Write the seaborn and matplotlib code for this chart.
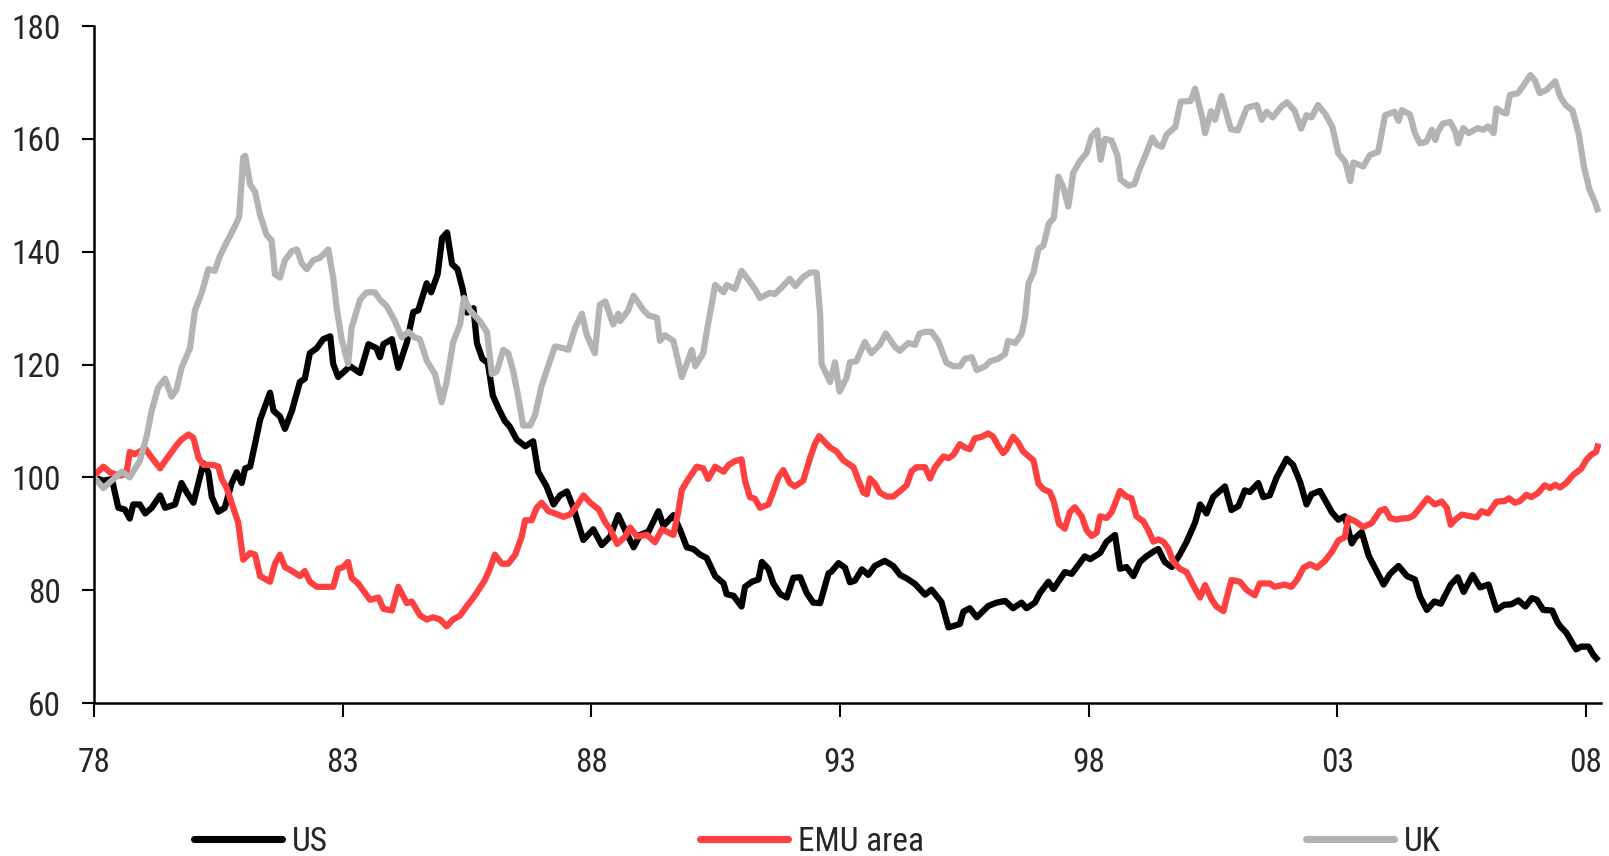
import matplotlib
matplotlib.use("Agg")
import matplotlib.pyplot as plt
from matplotlib import font_manager
from matplotlib.lines import Line2D
import seaborn as sns
import pandas as pd

# ---------------- data (decimal years, index 1978 = 100) ----------------
us_years = [1978.00, 1978.19, 1978.36, 1978.49, 1978.62, 1978.72, 1978.79, 1978.92, 1979.03, 1979.16,
            1979.33, 1979.43, 1979.63, 1979.76, 1979.86, 1980.00, 1980.10, 1980.20, 1980.30, 1980.37,
            1980.50, 1980.63, 1980.77, 1980.87, 1980.97, 1981.04, 1981.14, 1981.24, 1981.34, 1981.54,
            1981.61, 1981.74, 1981.84, 1981.98, 1982.14, 1982.24, 1982.34, 1982.48, 1982.61, 1982.75,
            1982.81, 1982.91, 1983.15, 1983.35, 1983.52, 1983.68, 1983.75, 1983.82, 1983.99, 1984.12,
            1984.29, 1984.42, 1984.52, 1984.69, 1984.78, 1984.91, 1985.00, 1985.10, 1985.20, 1985.31,
            1985.41, 1985.50, 1985.63, 1985.70, 1985.81, 1985.92, 1986.02, 1986.13, 1986.26, 1986.36,
            1986.50, 1986.67, 1986.83, 1986.93, 1987.10, 1987.24, 1987.37, 1987.51, 1987.64, 1987.84,
            1988.04, 1988.21, 1988.38, 1988.54, 1988.71, 1988.85, 1988.98, 1989.15, 1989.35, 1989.45,
            1989.65, 1989.78, 1989.92, 1990.05, 1990.19, 1990.32, 1990.49, 1990.66, 1990.72, 1990.86,
            1991.02, 1991.09, 1991.23, 1991.36, 1991.43, 1991.56, 1991.66, 1991.80, 1991.93, 1992.06,
            1992.20, 1992.33, 1992.46, 1992.60, 1992.77, 1992.83, 1992.97, 1993.10, 1993.20, 1993.30,
            1993.44, 1993.57, 1993.70, 1993.90, 1994.07, 1994.21, 1994.34, 1994.51, 1994.71, 1994.84,
            1995.04, 1995.18, 1995.41, 1995.48, 1995.61, 1995.75, 1995.98, 1996.15, 1996.32, 1996.48,
            1996.65, 1996.75, 1996.92, 1997.02, 1997.19, 1997.29, 1997.52, 1997.66, 1997.92, 1998.03,
            1998.23, 1998.36, 1998.53, 1998.63, 1998.76, 1998.90, 1999.03, 1999.16, 1999.33, 1999.40,
            1999.53, 1999.67, 1999.83, 1999.97, 2000.14, 2000.24, 2000.37, 2000.50, 2000.74, 2000.87,
            2001.01, 2001.14, 2001.24, 2001.41, 2001.51, 2001.64, 2001.78, 2001.98, 2002.11, 2002.25,
            2002.38, 2002.48, 2002.65, 2002.75, 2002.89, 2003.02, 2003.15, 2003.29, 2003.36, 2003.49,
            2003.63, 2003.76, 2003.93, 2004.06, 2004.23, 2004.40, 2004.56, 2004.66, 2004.80, 2004.95,
            2005.08, 2005.28, 2005.42, 2005.54, 2005.72, 2005.87, 2006.04, 2006.20, 2006.35, 2006.50,
            2006.64, 2006.78, 2006.91, 2007.01, 2007.14, 2007.32, 2007.42, 2007.48, 2007.60, 2007.70,
            2007.80, 2007.90, 2008.05, 2008.15, 2008.25]
us_values = [100.0, 99.4, 99.7, 94.6, 94.3, 92.7, 95.2, 95.2, 93.6, 94.6,
             96.8, 94.6, 95.2, 99.0, 97.4, 95.5, 99.0, 102.5, 100.9, 96.5,
             93.9, 94.6, 99.0, 100.9, 99.0, 101.6, 101.9, 106.0, 110.2, 115.0,
             111.8, 110.8, 108.6, 111.8, 116.9, 117.5, 122.0, 122.9, 124.5, 125.0,
             120.1, 117.8, 119.7, 118.5, 123.6, 122.9, 121.3, 123.6, 124.5, 119.4,
             123.9, 129.3, 129.6, 134.4, 132.8, 136.0, 142.4, 143.4, 137.8, 136.9,
             133.5, 129.2, 130.0, 123.8, 121.0, 120.3, 114.5, 112.3, 110.0, 109.0,
             106.7, 105.5, 106.4, 101.0, 98.4, 95.2, 96.8, 97.5, 94.6, 88.9,
             90.8, 88.0, 89.5, 93.3, 90.1, 87.6, 89.8, 90.4, 94.0, 91.4,
             93.3, 90.8, 87.6, 87.3, 86.3, 85.7, 82.5, 81.2, 79.3, 79.0,
             77.1, 80.6, 81.5, 81.9, 85.0, 83.8, 81.2, 79.3, 78.7, 82.2,
             82.3, 79.5, 77.8, 77.7, 83.0, 83.3, 84.8, 84.0, 81.4, 81.7,
             83.7, 82.7, 84.3, 85.2, 84.3, 82.7, 82.1, 81.1, 79.2, 80.1,
             77.9, 73.4, 74.0, 76.2, 76.8, 75.2, 77.2, 77.8, 78.1, 76.8,
             77.8, 76.8, 77.8, 79.5, 81.5, 80.2, 83.2, 82.9, 86.0, 85.5,
             86.6, 88.6, 89.8, 83.8, 84.1, 82.5, 85.0, 86.0, 87.0, 87.3,
             85.0, 84.1, 86.3, 88.6, 92.0, 95.2, 93.6, 96.5, 98.4, 94.2,
             94.9, 97.7, 97.4, 99.0, 96.5, 96.8, 100.0, 103.3, 102.2, 99.2,
             95.2, 97.0, 97.6, 96.0, 93.8, 92.5, 93.1, 88.3, 89.3, 90.3,
             86.1, 83.9, 81.0, 82.9, 84.3, 82.5, 81.9, 78.9, 76.5, 78.0,
             77.6, 81.0, 82.3, 79.7, 82.7, 80.5, 81.0, 76.5, 77.4, 77.5,
             78.2, 77.1, 78.6, 78.3, 76.5, 76.4, 74.4, 73.6, 72.5, 71.0,
             69.5, 70.0, 70.0, 68.5, 67.5]

emu_years = [1978.00, 1978.19, 1978.32, 1978.52, 1978.65, 1978.72, 1978.82, 1979.03, 1979.16, 1979.33,
             1979.43, 1979.56, 1979.66, 1979.76, 1979.90, 1980.00, 1980.10, 1980.20, 1980.40, 1980.50,
             1980.57, 1980.67, 1980.80, 1980.90, 1981.00, 1981.14, 1981.24, 1981.34, 1981.54, 1981.64,
             1981.74, 1981.84, 1981.98, 1982.14, 1982.24, 1982.34, 1982.48, 1982.81, 1982.91, 1983.01,
             1983.11, 1983.18, 1983.31, 1983.41, 1983.55, 1983.72, 1983.82, 1983.99, 1984.12, 1984.29,
             1984.39, 1984.56, 1984.69, 1984.82, 1984.96, 1985.09, 1985.22, 1985.36, 1985.49, 1985.63,
             1985.73, 1985.86, 1985.96, 1986.06, 1986.20, 1986.33, 1986.47, 1986.60, 1986.67, 1986.80,
             1986.90, 1987.00, 1987.14, 1987.27, 1987.44, 1987.57, 1987.71, 1987.84, 1987.98, 1988.15,
             1988.28, 1988.38, 1988.52, 1988.68, 1988.78, 1988.92, 1989.12, 1989.28, 1989.42, 1989.65,
             1989.75, 1989.82, 1989.95, 1990.12, 1990.25, 1990.35, 1990.49, 1990.66, 1990.76, 1990.89,
             1991.02, 1991.09, 1991.19, 1991.29, 1991.39, 1991.56, 1991.66, 1991.76, 1991.86, 1991.99,
             1992.09, 1992.26, 1992.40, 1992.50, 1992.58, 1992.80, 1992.93, 1993.07, 1993.17, 1993.27,
             1993.37, 1993.47, 1993.54, 1993.60, 1993.70, 1993.80, 1993.94, 1994.07, 1994.21, 1994.34,
             1994.44, 1994.54, 1994.71, 1994.81, 1994.91, 1995.08, 1995.18, 1995.28, 1995.41, 1995.51,
             1995.61, 1995.71, 1995.85, 1995.98, 1996.08, 1996.18, 1996.28, 1996.35, 1996.48, 1996.58,
             1996.68, 1996.89, 1996.99, 1997.09, 1997.22, 1997.30, 1997.40, 1997.52, 1997.62, 1997.72,
             1997.86, 1997.96, 1998.06, 1998.16, 1998.23, 1998.36, 1998.46, 1998.63, 1998.76, 1998.86,
             1998.96, 1999.10, 1999.20, 1999.30, 1999.40, 1999.50, 1999.60, 1999.70, 1999.83, 1999.97,
             2000.10, 2000.24, 2000.34, 2000.47, 2000.57, 2000.71, 2000.77, 2000.87, 2001.04, 2001.18,
             2001.34, 2001.44, 2001.64, 2001.74, 2001.94, 2002.08, 2002.20, 2002.32, 2002.45, 2002.59,
             2002.75, 2002.89, 2003.02, 2003.15, 2003.22, 2003.36, 2003.52, 2003.69, 2003.86, 2003.96,
             2004.06, 2004.19, 2004.29, 2004.43, 2004.53, 2004.66, 2004.81, 2004.96, 2005.10, 2005.20,
             2005.28, 2005.37, 2005.50, 2005.80, 2005.90, 2006.03, 2006.20, 2006.36, 2006.45, 2006.57,
             2006.67, 2006.80, 2006.90, 2007.03, 2007.17, 2007.28, 2007.38, 2007.48, 2007.60, 2007.75,
             2007.90, 2008.00, 2008.10, 2008.20, 2008.25]
emu_values = [100.3, 101.9, 100.9, 100.3, 100.6, 104.5, 104.1, 105.1, 103.5, 101.6,
              102.9, 104.5, 105.7, 106.7, 107.6, 107.0, 103.5, 102.2, 102.2, 101.9,
              99.7, 98.1, 94.6, 92.0, 85.4, 86.6, 86.3, 82.5, 81.5, 84.7,
              86.3, 84.1, 83.4, 82.5, 83.4, 81.5, 80.6, 80.6, 83.8, 84.1,
              85.0, 82.2, 81.2, 80.0, 78.3, 78.7, 76.7, 76.4, 80.6, 77.7,
              78.0, 75.5, 74.8, 75.2, 74.8, 73.6, 74.8, 75.5, 77.1, 78.7,
              80.0, 81.8, 83.8, 86.3, 84.7, 84.7, 86.3, 89.5, 92.4, 92.4,
              94.6, 95.5, 94.0, 93.6, 93.0, 93.4, 95.0, 96.8, 95.5, 94.3,
              92.0, 90.8, 88.2, 89.5, 91.1, 89.5, 89.8, 88.5, 90.8, 89.8,
              94.0, 97.8, 99.7, 101.9, 101.6, 99.7, 101.9, 101.0, 102.2, 102.9,
              103.2, 99.4, 96.5, 96.2, 94.6, 95.2, 97.5, 100.0, 101.3, 99.0,
              98.4, 99.4, 103.5, 106.0, 107.3, 105.3, 104.6, 103.0, 102.4, 101.8,
              99.5, 97.3, 97.0, 99.8, 98.9, 97.3, 96.6, 96.6, 97.6, 98.6,
              101.1, 101.8, 101.8, 99.8, 101.8, 103.7, 103.4, 104.0, 105.9, 105.3,
              105.0, 106.9, 107.2, 107.8, 107.2, 105.6, 104.3, 105.0, 107.2, 106.2,
              104.6, 103.0, 98.9, 97.9, 97.4, 95.7, 91.8, 90.9, 93.8, 94.7,
              93.1, 90.6, 89.6, 90.2, 93.1, 92.8, 93.8, 97.6, 96.6, 96.3,
              93.1, 92.2, 90.6, 88.6, 89.0, 88.6, 87.4, 85.1, 83.8, 83.2,
              80.9, 78.7, 80.9, 78.4, 77.1, 76.3, 78.5, 81.8, 81.5, 80.0,
              79.1, 81.2, 81.2, 80.6, 81.0, 80.6, 82.0, 84.0, 84.6, 84.0,
              85.2, 86.8, 88.8, 89.4, 92.8, 92.2, 91.2, 91.9, 94.1, 94.4,
              92.8, 92.5, 92.7, 92.8, 93.2, 94.6, 96.3, 95.2, 95.7, 94.6,
              91.6, 92.5, 93.4, 92.9, 94.0, 93.6, 95.7, 95.8, 96.3, 95.5,
              95.8, 96.9, 96.5, 97.2, 98.6, 98.1, 98.7, 98.2, 99.0, 100.5,
              101.5, 103.0, 104.0, 104.5, 106.0]

uk_years = [1978.00, 1978.19, 1978.39, 1978.56, 1978.72, 1978.92, 1979.06, 1979.16, 1979.29, 1979.43,
            1979.56, 1979.66, 1979.76, 1979.93, 1980.03, 1980.17, 1980.30, 1980.43, 1980.53, 1980.67,
            1980.84, 1980.92, 1981.00, 1981.04, 1981.14, 1981.24, 1981.34, 1981.47, 1981.57, 1981.64,
            1981.74, 1981.84, 1981.98, 1982.08, 1982.18, 1982.28, 1982.41, 1982.54, 1982.71, 1982.81,
            1982.88, 1982.98, 1983.11, 1983.18, 1983.35, 1983.48, 1983.65, 1983.75, 1983.89, 1984.05,
            1984.19, 1984.32, 1984.45, 1984.55, 1984.69, 1984.86, 1984.99, 1985.09, 1985.22, 1985.36,
            1985.44, 1985.56, 1985.76, 1985.90, 1986.00, 1986.10, 1986.23, 1986.33, 1986.43, 1986.53,
            1986.63, 1986.77, 1986.87, 1987.00, 1987.17, 1987.27, 1987.44, 1987.54, 1987.67, 1987.81,
            1987.91, 1988.07, 1988.17, 1988.28, 1988.44, 1988.54, 1988.58, 1988.74, 1988.85, 1989.05,
            1989.15, 1989.32, 1989.38, 1989.48, 1989.65, 1989.82, 1990.02, 1990.09, 1990.25, 1990.32,
            1990.49, 1990.66, 1990.72, 1990.89, 1991.02, 1991.16, 1991.29, 1991.39, 1991.59, 1991.69,
            1991.83, 1991.99, 1992.10, 1992.26, 1992.40, 1992.53, 1992.60, 1992.63, 1992.80, 1992.90,
            1992.99, 1993.13, 1993.20, 1993.33, 1993.50, 1993.63, 1993.80, 1993.92, 1994.10, 1994.20,
            1994.37, 1994.51, 1994.60, 1994.71, 1994.84, 1994.97, 1995.14, 1995.28, 1995.41, 1995.51,
            1995.65, 1995.75, 1995.92, 1996.02, 1996.18, 1996.32, 1996.38, 1996.52, 1996.65, 1996.72,
            1996.79, 1996.89, 1996.99, 1997.09, 1997.20, 1997.30, 1997.39, 1997.49, 1997.59, 1997.69,
            1997.82, 1997.96, 1998.06, 1998.17, 1998.24, 1998.33, 1998.46, 1998.58, 1998.64, 1998.80,
            1998.92, 1999.03, 1999.16, 1999.28, 1999.37, 1999.47, 1999.57, 1999.74, 1999.85, 2000.05,
            2000.14, 2000.29, 2000.34, 2000.46, 2000.54, 2000.67, 2000.86, 2001.00, 2001.18, 2001.38,
            2001.48, 2001.58, 2001.70, 2001.88, 2001.99, 2002.14, 2002.27, 2002.38, 2002.48, 2002.61,
            2002.75, 2002.90, 2003.02, 2003.16, 2003.26, 2003.32, 2003.52, 2003.65, 2003.82, 2003.96,
            2004.15, 2004.23, 2004.30, 2004.46, 2004.56, 2004.66, 2004.79, 2004.90, 2004.97, 2005.02,
            2005.12, 2005.27, 2005.37, 2005.43, 2005.53, 2005.64, 2005.82, 2005.93, 2006.03, 2006.14,
            2006.20, 2006.30, 2006.40, 2006.47, 2006.63, 2006.73, 2006.88, 2006.97, 2007.07, 2007.21,
            2007.38, 2007.48, 2007.59, 2007.73, 2007.85, 2007.96, 2008.07, 2008.17, 2008.25]
uk_values = [100.0, 98.1, 99.7, 101.0, 100.0, 102.9, 107.3, 111.8, 115.9, 117.5,
             114.3, 115.6, 119.4, 122.9, 129.6, 132.8, 136.9, 136.6, 139.2, 141.7,
             144.6, 146.2, 156.7, 157.0, 151.9, 150.6, 146.5, 143.0, 142.0, 136.0,
             135.4, 138.5, 140.1, 140.4, 137.9, 136.9, 138.5, 138.9, 140.4, 135.4,
             130.0, 124.5, 120.1, 126.5, 131.5, 132.8, 132.8, 131.5, 130.3, 127.7,
             124.8, 125.8, 124.8, 124.5, 120.7, 118.2, 113.3, 116.9, 123.9, 127.1,
             131.8, 129.6, 127.7, 125.8, 118.3, 118.8, 122.6, 122.0, 118.8, 114.3,
             109.2, 109.2, 111.1, 116.2, 120.7, 123.2, 122.9, 122.6, 126.4, 129.0,
             125.2, 122.0, 130.6, 131.2, 127.1, 129.0, 127.7, 129.6, 132.2, 129.6,
             128.7, 128.3, 124.2, 125.2, 124.2, 117.8, 122.6, 119.7, 122.0, 125.8,
             134.1, 132.8, 134.1, 133.4, 136.6, 135.0, 133.4, 131.8, 132.7, 132.5,
             133.7, 135.2, 133.9, 135.5, 136.3, 136.3, 129.0, 120.1, 116.9, 120.4,
             115.2, 117.6, 120.4, 120.6, 124.0, 122.0, 123.5, 125.5, 123.2, 122.4,
             123.8, 123.5, 125.5, 125.8, 125.8, 124.2, 120.3, 119.7, 119.7, 121.0,
             121.3, 119.0, 119.7, 120.6, 121.0, 121.9, 124.2, 123.8, 125.4, 128.3,
             134.4, 136.3, 140.5, 141.1, 145.0, 146.0, 153.3, 151.4, 148.0, 154.0,
             156.0, 157.5, 160.5, 161.5, 156.3, 160.0, 159.7, 157.0, 152.8, 151.7,
             152.0, 154.8, 157.5, 160.2, 159.0, 158.6, 160.8, 162.1, 166.6, 166.7,
             168.9, 163.5, 161.0, 164.9, 163.4, 167.6, 161.7, 161.5, 165.5, 166.0,
             163.4, 164.8, 163.8, 165.8, 166.5, 165.0, 161.8, 164.2, 163.8, 166.0,
             164.5, 162.1, 157.4, 155.9, 152.5, 155.8, 155.1, 157.1, 157.7, 164.2,
             164.8, 163.2, 165.1, 164.3, 161.0, 159.2, 159.5, 161.6, 159.8, 161.3,
             162.7, 163.0, 161.3, 159.2, 161.9, 161.0, 161.9, 161.6, 162.2, 161.0,
             165.4, 164.8, 164.5, 167.8, 168.1, 169.3, 171.3, 170.4, 168.1, 168.7,
             170.2, 167.5, 166.0, 165.0, 161.0, 155.0, 151.0, 149.0, 147.0]

series_names = ["US", "EMU area", "UK"]
series_colors = ["#000000", "#FF4040", "#B3B3B3"]
y_ticks = [60, 80, 100, 120, 140, 160, 180]
x_ticks = [1978, 1983, 1988, 1993, 1998, 2003, 2008]
x_tick_labels = ["78", "83", "88", "93", "98", "03", "08"]

# ---------------- style ----------------
sns.set_style("white")

# look for an installed narrow / condensed sans face (the original uses a narrow Arial-like face)
fam = None
stretch = "normal"
ttf = font_manager.fontManager.ttflist
pref_names = ["Liberation Sans Narrow", "Arial Narrow", "Roboto Condensed",
              "Open Sans Condensed", "Noto Sans Condensed", "DejaVu Sans Condensed"]
names = {f.name for f in ttf}
for n in pref_names:
    if n in names:
        fam = n
        break
if fam is None:
    for f in ttf:
        st = str(f.stretch).lower()
        if st in ("condensed", "semi-condensed", "extra-condensed") or (
                isinstance(f.stretch, int) and f.stretch <= 400):
            if f.style == "normal" and str(f.weight) in ("400", "normal", "regular"):
                fam = f.name
                stretch = "condensed"
                break
if fam is None:
    for f in ttf:
        if ("Narrow" in f.name or "Condensed" in f.name or "Cond" in f.name) and f.style == "normal":
            fam = f.name
            break

if fam is not None:
    plt.rcParams["font.family"] = [fam, "DejaVu Sans"]
    plt.rcParams["font.stretch"] = stretch
    fs = 24
else:
    plt.rcParams["font.family"] = ["Liberation Sans", "DejaVu Sans"]
    fs = 21

fig = plt.figure(figsize=(16.09, 8.56), dpi=100)
ax = fig.add_axes([0.0584, 0.1787, 0.9366, 0.7909])

frames = []
for name, yrs, vals in [("US", us_years, us_values),
                        ("EMU area", emu_years, emu_values),
                        ("UK", uk_years, uk_values)]:
    frames.append(pd.DataFrame({"year": yrs, "value": vals, "series": name}))
df = pd.concat(frames, ignore_index=True)

lw = 4.5
for name, col in zip(series_names, series_colors):
    sns.lineplot(data=df[df["series"] == name], x="year", y="value", color=col,
                 linewidth=lw, estimator=None, sort=False, ax=ax, legend=False,
                 solid_joinstyle="round", solid_capstyle="butt")

ax.set_xlim(1978, 2008.3)
ax.set_ylim(60, 180)
ax.set_xticks(x_ticks)
ax.set_xticklabels(x_tick_labels)
ax.set_yticks(y_ticks)
ax.set_xlabel("")
ax.set_ylabel("")

for s in ["top", "right"]:
    ax.spines[s].set_visible(False)
for s in ["left", "bottom"]:
    ax.spines[s].set_color("black")
    ax.spines[s].set_linewidth(1.8)

ax.tick_params(axis="x", direction="out", length=10, width=1.5, color="black",
               labelsize=fs, pad=22, bottom=True)
ax.tick_params(axis="y", direction="out", length=9, width=1.5, color="black",
               labelsize=fs, pad=15, left=True)
ax.grid(False)

# ---------------- legend (three entries along the bottom) ----------------
positions = [0.1206, 0.435, 0.8117]
handle_px = 88.0
for name, col, xpos in zip(series_names, series_colors, positions):
    h = Line2D([0], [0], color=col, linewidth=lw + 0.6)
    fig.legend(handles=[h], labels=[name], loc="center left",
               bbox_to_anchor=(xpos, 0.0165), frameon=False, fontsize=fs,
               handlelength=handle_px / (fs * 100 / 72), handletextpad=0.3,
               borderpad=0.0, borderaxespad=0.0)

fig.savefig("out.png", dpi=100, facecolor="white")
